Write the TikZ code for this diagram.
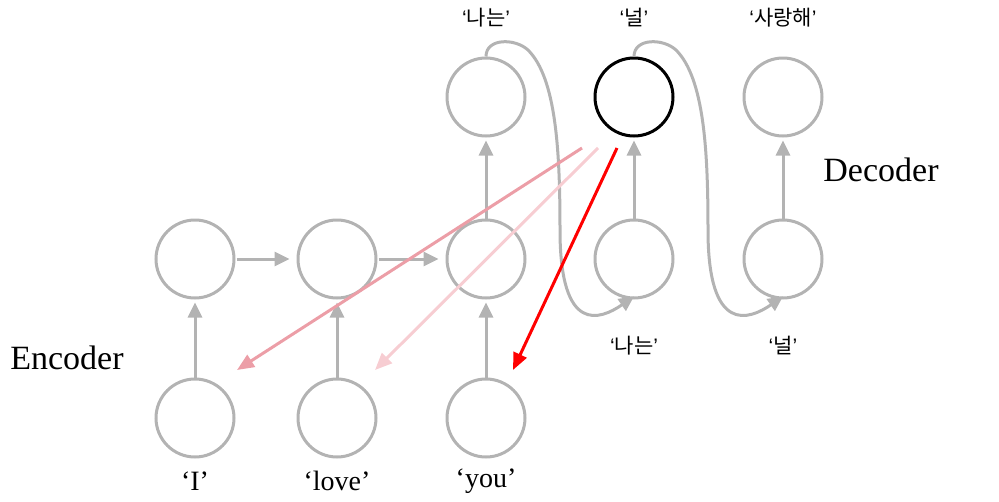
\documentclass[tikz,border=0pt]{standalone}
\usepackage{fontspec}
\setmainfont{Liberation Serif}
\newfontfamily\krfont{Noto Sans CJK KR}
\newfontfamily\qfont{Liberation Sans}
\usetikzlibrary{arrows.meta}
\definecolor{cgray}{HTML}{B3B3B3}
\definecolor{pinkA}{HTML}{EC9EA7}
\definecolor{pinkB}{HTML}{F7CDD2}
\definecolor{redC}{HTML}{FF0000}
\newcommand{\kq}[1]{{\qfont ‘}{\krfont #1}{\qfont ’}}
\begin{document}
\begin{tikzpicture}[x=1pt,y=-1pt,
  cell/.style={circle,draw=cgray,line width=3pt,minimum size=78pt,inner sep=0pt},
  active/.style={circle,draw=black,line width=3pt,minimum size=78pt,inner sep=0pt},
  flow/.style={draw=cgray,line width=3pt,-{Triangle[length=15pt,width=14pt]}},
  attn/.style={line width=3pt,-{Triangle[length=17pt,width=14pt]}},
  word/.style={font=\fontsize{28}{30}\selectfont},
  kword/.style={font=\fontsize{21}{24}\selectfont},
  title/.style={font=\fontsize{34}{37}\selectfont}]
\useasboundingbox (0,0) rectangle (999,501);
% encoder
\node[cell] (x1) at (195,418) {};
\node[cell] (x2) at (337,418) {};
\node[cell] (x3) at (486,418) {};
\node[cell] (h1) at (195,259) {};
\node[cell] (h2) at (337,259) {};
\node[cell] (h3) at (486,259) {};
% decoder
\node[cell] (d2) at (634,259) {};
\node[cell] (d3) at (783,259) {};
\node[cell] (y1) at (486,97) {};
\node[active] (y2) at (634,97) {};
\node[cell] (y3) at (783,97) {};
% labels
\node[word] (lI) at (195,481) {‘I’};
\node[word] (llove) at (337,481) {‘love’};
\node[word] (lyou) at (486,481) {‘you’};
\node[kword] (t1) at (486,18) {\kq{나는}};
\node[kword] (t2) at (634,18) {\kq{널}};
\node[kword] (t3) at (783,18) {\kq{사랑해}};
\node[kword] (b2) at (634,346) {\kq{나는}};
\node[kword] (b3) at (783,346) {\kq{널}};
\node[title] (enc) at (67,358) {Encoder};
\node[title] (dec) at (881,170) {Decoder};
% encoder arrows
\draw[flow,shorten <=1pt,shorten >=7pt] (h1.east) -- (h2.west);
\draw[flow,shorten <=1pt,shorten >=7pt] (h2.east) -- (h3.west);
\foreach \a/\b in {x1/h1,x2/h2,x3/h3,h3/y1,d2/y2,d3/y3}
  \draw[flow,shorten >=3pt] (\a.north) -- (\b.south);
% feedback curves
\draw[flow] (y1.north) .. controls (486,38) and (515,38) .. (528,50)
  .. controls (556,78) and (560,150) .. (560,230)
  .. controls (560,335) and (600,320) .. ([yshift=3pt]d2.south);
\draw[flow] (y2.north) .. controls (634,38) and (663,38) .. (676,50)
  .. controls (704,78) and (708,150) .. (708,230)
  .. controls (708,335) and (749,320) .. ([yshift=3pt]d3.south);
% attention arrows
\coordinate (s1) at (582,148);
\coordinate (s2) at (598,148);
\coordinate (s3) at (617,148);
\coordinate (e1) at (237,370);
\coordinate (e2) at (375,370);
\coordinate (e3) at (513,370);
\draw[attn,draw=pinkA,fill=pinkA] (s1) -- (e1);
\draw[attn,draw=pinkB,fill=pinkB] (s2) -- (e2);
\draw[attn,draw=redC,fill=redC] (s3) -- (e3);
\end{tikzpicture}
\end{document}
